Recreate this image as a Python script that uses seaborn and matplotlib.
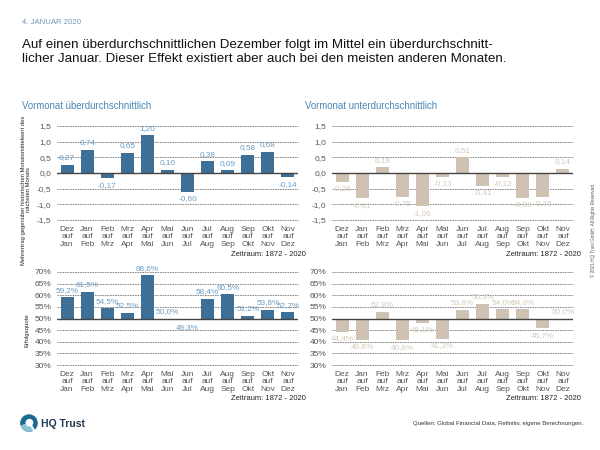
import matplotlib
matplotlib.use("Agg")
import matplotlib.pyplot as plt
import matplotlib.ticker as mticker
from matplotlib.patches import Circle, Wedge
import seaborn as sns
import pandas as pd

sns.set_theme(style="white")
plt.rcParams['font.family'] = ['Liberation Sans', 'DejaVu Sans']

categories = ["Dez\nauf\nJan", "Jan\nauf\nFeb", "Feb\nauf\nMrz", "Mrz\nauf\nApr", "Apr\nauf\nMai",
              "Mai\nauf\nJun", "Jun\nauf\nJul", "Jul\nauf\nAug", "Aug\nauf\nSep", "Sep\nauf\nOkt",
              "Okt\nauf\nNov", "Nov\nauf\nDez"]
excess_above = [0.27, 0.74, -0.17, 0.65, 1.20, 0.10, -0.60, 0.38, 0.09, 0.58, 0.68, -0.14]
excess_below = [-0.28, -0.81, 0.18, -0.75, -1.06, -0.13, 0.51, -0.41, -0.12, -0.80, -0.76, 0.14]
hit_above = [59.2, 61.5, 54.5, 52.5, 68.6, 50.0, 49.3, 58.4, 60.5, 51.2, 53.8, 52.7]
hit_below = [44.4, 40.8, 52.8, 40.6, 48.1, 41.3, 53.8, 56.3, 54.0, 54.0, 45.7, 50.0]
excess_ticks = [-1.5, -1.0, -0.5, 0.0, 0.5, 1.0, 1.5]
hit_ticks = [30, 35, 40, 45, 50, 55, 60, 65, 70]

BLUE = "#3d6f97"
BLUE_LBL = "#6b9cc3"
BEIGE = "#cfc2b2"
BEIGE_LBL = "#d6cabb"
TITLE_BLUE = "#4a86b5"
TICK_C = "#555555"

fig = plt.figure(figsize=(6, 4.5), dpi=100)
W, H = 600, 450

def axes_px(x0, x1, ytop, ybot):
    return fig.add_axes([x0 / W, 1 - ybot / H, (x1 - x0) / W, (ybot - ytop) / H])

def de(v, fmt):
    return fmt.format(v).replace(".", ",")

def style_axes(ax, ticks, base, formatter):
    for s in ax.spines.values():
        s.set_visible(False)
    ax.set_yticks([t - base for t in ticks])
    ax.yaxis.set_major_formatter(mticker.FuncFormatter(formatter))
    ax.set_ylim(ticks[0] - base, ticks[-1] - base)
    ax.set_xlim(-0.5, 11.5)
    for t in ticks:
        if abs(t - base) < 1e-9:
            ax.axhline(0, color="#444444", lw=1.0, zorder=3)
        else:
            ax.axhline(t - base, color="#777777", lw=0.6, ls=(0, (2, 1)), zorder=0, clip_on=False)
    ax.tick_params(axis="y", length=0, labelsize=6, colors=TICK_C, pad=4)
    ax.tick_params(axis="x", length=0, labelsize=6, colors=TICK_C, pad=4)
    ax.set_xlabel("")
    ax.set_ylabel("")
    for lbl in ax.get_xticklabels():
        lbl.set_linespacing(1.15)

def draw(ax, vals, base, color, lcolor, labfmt, ticks, formatter):
    dev = [v - base for v in vals]
    df = pd.DataFrame({"cat": categories, "val": dev})
    sns.barplot(data=df, x="cat", y="val", color=color, width=0.65, ax=ax,
                saturation=1, edgecolor="none", zorder=2)
    style_axes(ax, ticks, base, formatter)
    for i, (v, d) in enumerate(zip(vals, dev)):
        if d >= 0:
            ax.annotate(labfmt(v), (i, d), xytext=(0, 2.5), textcoords="offset points",
                        ha="center", va="bottom", fontsize=5.9, color=lcolor)
        else:
            ax.annotate(labfmt(v), (i, d), xytext=(0, -2.5), textcoords="offset points",
                        ha="center", va="top", fontsize=5.9, color=lcolor)

fmt_ex = lambda v, p=None: de(v, "{:.1f}")
fmt_hit = lambda v, p=None: f"{v + 50:.0f}%"
lab_ex = lambda v: de(v, "{:.2f}")
lab_hit = lambda v: de(v, "{:.1f}") + "%"

ax1 = axes_px(57, 298, 126, 220)
draw(ax1, excess_above, 0, BLUE, BLUE_LBL, lab_ex, excess_ticks, fmt_ex)
ax2 = axes_px(332, 573, 126, 220)
draw(ax2, excess_below, 0, BEIGE, BEIGE_LBL, lab_ex, excess_ticks, fmt_ex)
ax3 = axes_px(57, 298, 272, 365)
draw(ax3, hit_above, 50, BLUE, BLUE_LBL, lab_hit, hit_ticks, fmt_hit)
ax4 = axes_px(332, 573, 272, 365)
draw(ax4, hit_below, 50, BEIGE, BEIGE_LBL, lab_hit, hit_ticks, fmt_hit)

# texts
fig.text(22 / W, 1 - 22 / H, "4. JANUAR 2020", fontsize=5.6, color="#6f95b8", va="center")
fig.text(22 / W, 1 - 52 / H,
         "Auf einen überdurchschnittlichen Dezember folgt im Mittel ein überdurchschnitt-\n"
         "licher Januar. Dieser Effekt existiert aber auch bei den meisten anderen Monaten.",
         fontsize=9.6, color="#111111", va="center", linespacing=1.3)
fig.text(22 / W, 1 - 106 / H, "Vormonat überdurchschnittlich", fontsize=6.9, color=TITLE_BLUE, va="center")
fig.text(305 / W, 1 - 106 / H, "Vormonat unterdurchschnittlich", fontsize=6.9, color=TITLE_BLUE, va="center")
fig.text(26 / W, 1 - 190 / H,
         "Mehrertrag gegenüber historischen Monatsmittelwert des\nnächsten Monats",
         fontsize=4.2, rotation=90, ha="center", va="center", color="#222222", multialignment="center")
fig.text(27 / W, 1 - 330 / H, "Erfolgsquote", fontsize=4.3, rotation=90, ha="center", va="center", color="#222222")
for xr in (306, 581):
    fig.text(xr / W, 1 - 255 / H, "Zeitraum: 1872 - 2020", fontsize=5.5, ha="right", va="center", color="#222222")
    fig.text(xr / W, 1 - 398 / H, "Zeitraum: 1872 - 2020", fontsize=5.5, ha="right", va="center", color="#222222")
fig.text(593 / W, 1 - 230 / H, "© 2021 HQ Trust GmbH. All Rights Reserved.", fontsize=3.3,
         rotation=90, ha="center", va="center", color="#555555")
fig.text(583 / W, 1 - 424 / H, "Quellen: Global Financial Data, Refinitiv, eigene Berechnungen.",
         fontsize=4.3, ha="right", va="center", color="#333333")
fig.text(41 / W, 1 - 424 / H, "HQ Trust", fontsize=7.5, fontweight="bold", ha="left", va="center", color="#1e3a55")

# logo
logo = fig.add_axes([20 / W, 1 - 436 / H, 18 / W, 24 / H])
logo.set_xlim(-1, 1)
logo.set_ylim(-1.33, 1.33)
logo.set_aspect("equal")
logo.axis("off")
logo.add_patch(Circle((0, 0.1), 0.9, color="#1b6a8f"))
logo.add_patch(Wedge((0, 0.1), 0.9, 200, 300, color="#8fc1d8"))
logo.add_patch(Circle((0.05, 0.15), 0.35, color="white"))
logo.plot([0.2, 0.8], [-0.1, -1.1], color="white", lw=1.5)

fig.savefig("out.png", dpi=100)
